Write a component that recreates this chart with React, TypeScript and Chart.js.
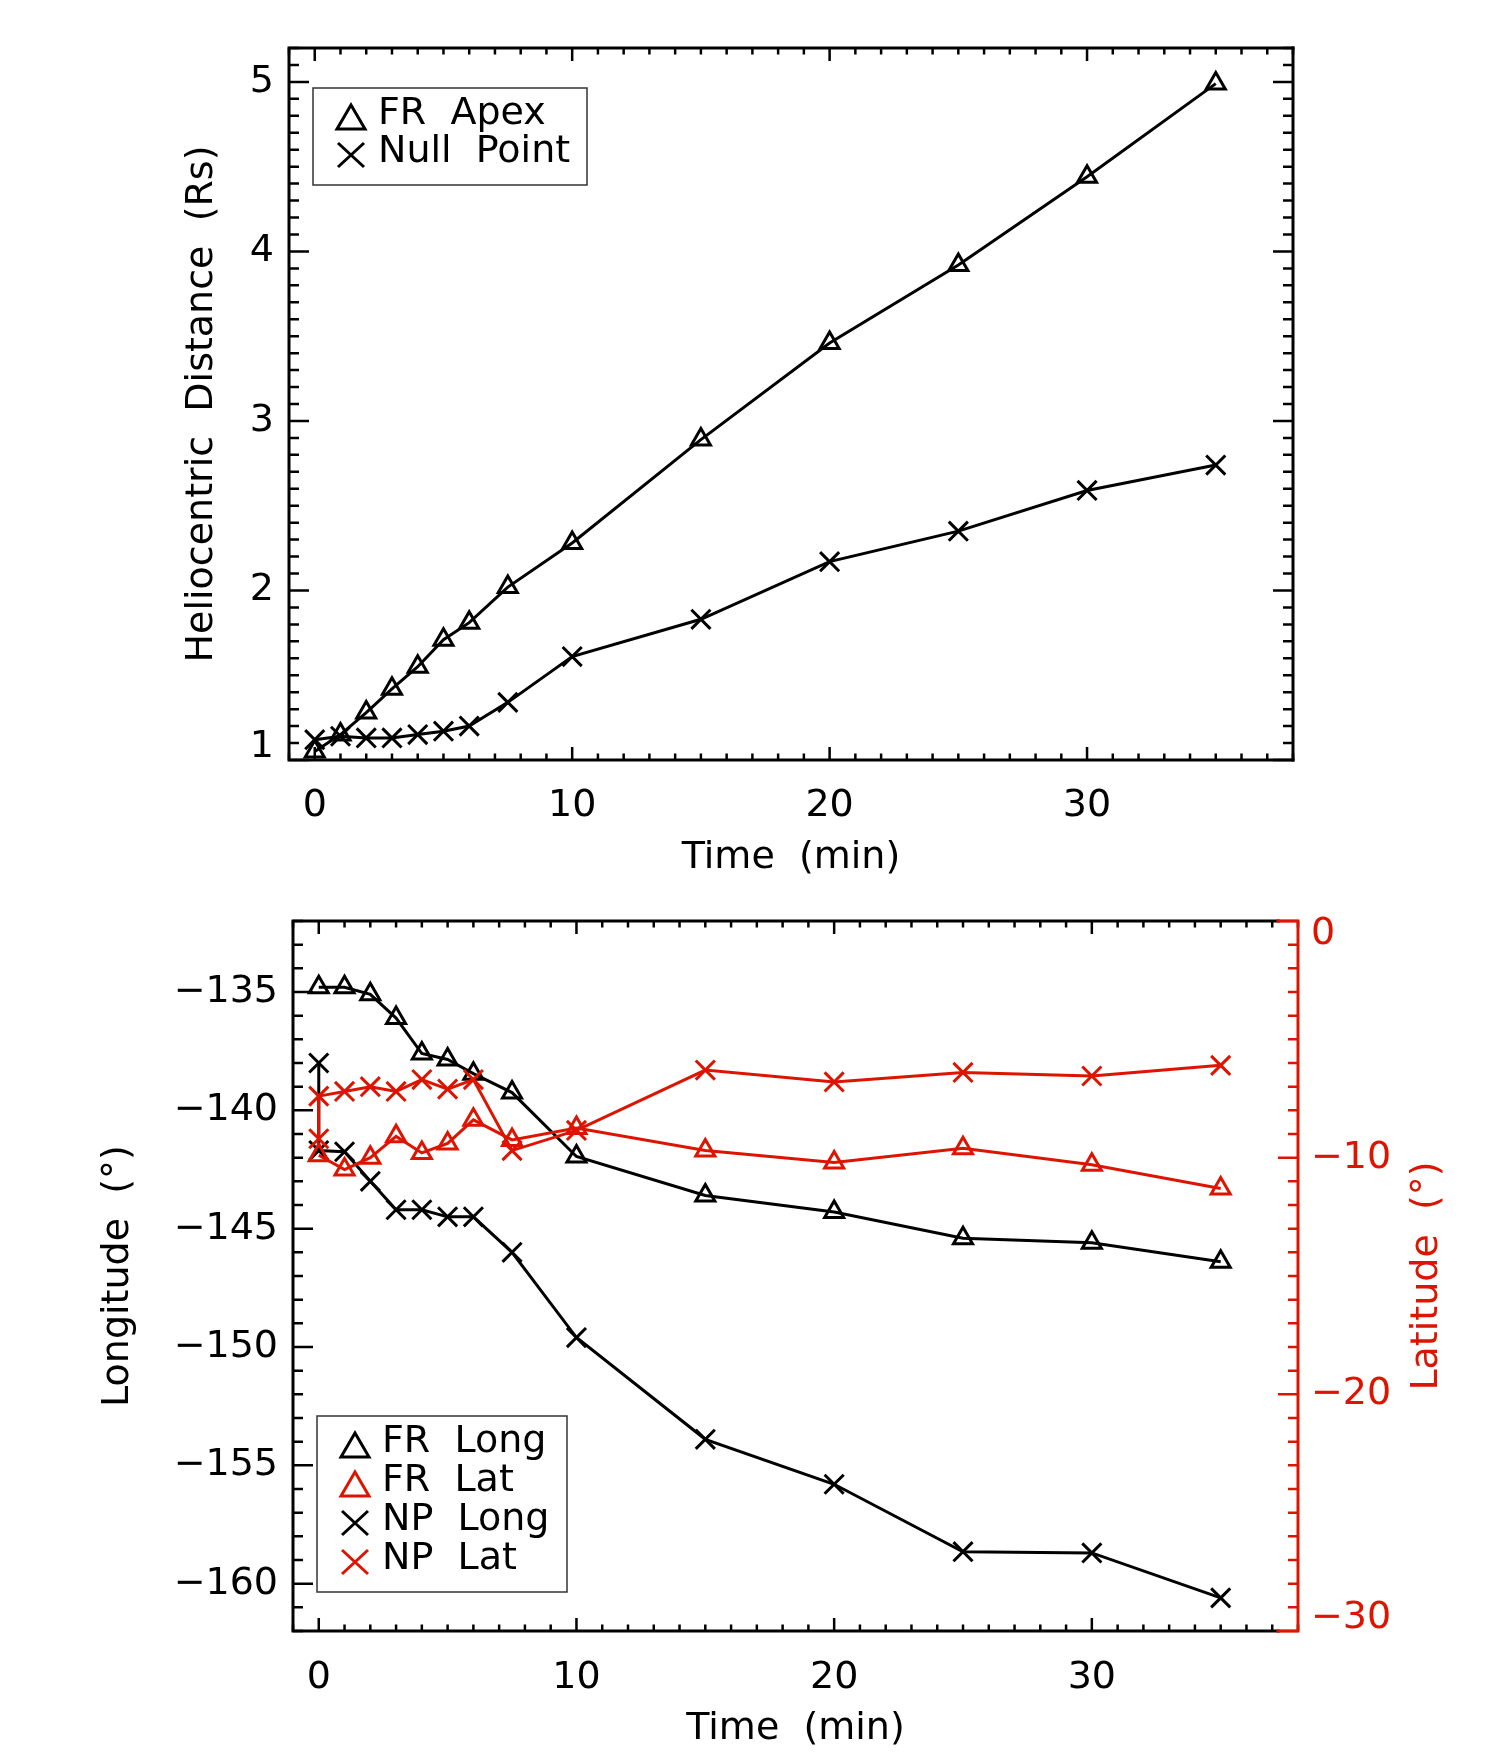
import React, { useEffect, useRef } from 'react';
import { Chart, registerables } from 'chart.js';

Chart.register(...registerables);

// top panel: heliocentric distance (Rs) vs time (min)
const apexTimes = [0, 1, 2, 3, 4, 5, 6, 7.5, 10, 15, 20, 25, 30, 35];
const frApex = [1.05, 1.15, 1.28, 1.42, 1.55, 1.71, 1.81, 2.02, 2.28, 2.89, 3.46, 3.92, 4.44, 4.99];
const nullTimes = [0, 1, 2, 3, 4, 5, 6, 7.5, 10, 15, 20, 25, 30, 35];
const nullPoint = [1.12, 1.14, 1.13, 1.13, 1.15, 1.17, 1.2, 1.34, 1.61, 1.83, 2.17, 2.35, 2.59, 2.74];
const distTicks = [1, 2, 3, 4, 5];
const timeTicks = [0, 10, 20, 30];

// bottom panel: longitude / latitude (deg) vs time (min)
const frTimes = [0, 1, 2, 3, 4, 5, 6, 7.5, 10, 15, 20, 25, 30, 35];
const frLong = [-134.8, -134.8, -135.1, -136.1, -137.6, -137.85, -138.45, -139.25, -141.95, -143.6, -144.3, -145.4, -145.6, -146.4];
const frLat = [-9.9, -10.5, -10.0, -9.1, -9.8, -9.4, -8.4, -9.25, -8.75, -9.7, -10.2, -9.6, -10.3, -11.3];
const npTimes = [0, 0, 1, 2, 3, 4, 5, 6, 7.5, 10, 15, 20, 25, 30, 35];
const npLong = [-138.0, -141.7, -141.75, -143.0, -144.2, -144.2, -144.5, -144.5, -146.0, -149.6, -153.9, -155.8, -158.65, -158.7, -160.6];
const npLat = [-9.2, -7.4, -7.2, -7.0, -7.2, -6.7, -7.1, -6.7, -9.7, -8.85, -6.3, -6.8, -6.4, -6.55, -6.1];
const lonTicks = [-160, -155, -150, -145, -140, -135];
const latTicks = [-30, -20, -10, 0];

const RED = 'rgb(220,20,0)';
const FONT = 'DejaVu Sans';
const tickFont = { family: FONT, size: 38, lineHeight: 1 };
// end labels are nudged inward by half a line (IDL style)
const endTickFont = { family: FONT, size: 38, lineHeight: 0.68 };
const LW = 3;

Chart.defaults.font.family = FONT;

const pts = (xs: number[], ys: number[]) => xs.map((x, i) => ({ x, y: ys[i] }));
const near = (a: number, b: number) => Math.abs(a - b) < 1e-6;
const fmt = (v: number) => (v < 0 ? '\u2212' + Math.abs(v) : String(v));
const labelFor = (majors: number[]) => (v: any) => (majors.some((m) => near(m, Number(v))) ? fmt(Number(v)) : '');

// vertical axis whose lowest/highest labels sit on the frame: push them inside
const labelInset = (majors: number[], lo: number, hi: number) => (v: any) => {
  const n = Number(v);
  if (!majors.some((m) => near(m, n))) return '';
  if (near(n, lo)) return [fmt(n), ''];
  if (near(n, hi)) return ['', fmt(n)];
  return fmt(n);
};

// every minor step between the axis limits, labels only on the majors
const stepTicks = (step: number) => (scale: any) => {
  const out: { value: number }[] = [];
  for (let i = 0; ; i++) {
    const v = Math.round((scale.min + i * step) * 1000) / 1000;
    if (v > scale.max + 1e-9) break;
    out.push({ value: v });
  }
  scale.ticks = out;
};

type Side = 'left' | 'right' | 'top' | 'bottom';
interface TickEdge { scaleId: string; side: Side; major: number; minor: number; majors: number[]; color: string }

function makeFrame(edges: TickEdge[], rightColor: string, stub: number) {
  return {
    id: 'idlFrame',
    beforeDatasetsDraw(chart: any) {
      const { ctx, chartArea: a } = chart;
      ctx.save();
      ctx.lineCap = 'butt';
      ctx.lineWidth = 2.5;
      for (const e of edges) {
        const s = chart.scales[e.scaleId];
        ctx.strokeStyle = e.color;
        ctx.beginPath();
        for (const t of s.ticks) {
          const len = e.majors.some((m) => near(m, t.value)) ? e.major : e.minor;
          const p = s.getPixelForValue(t.value);
          if (e.side === 'bottom') { ctx.moveTo(p, a.bottom); ctx.lineTo(p, a.bottom - len); }
          if (e.side === 'top') { ctx.moveTo(p, a.top); ctx.lineTo(p, a.top + len); }
          if (e.side === 'left') { ctx.moveTo(a.left, p); ctx.lineTo(a.left + len, p); }
          if (e.side === 'right') { ctx.moveTo(a.right, p); ctx.lineTo(a.right - len, p); }
        }
        ctx.stroke();
      }
      ctx.lineWidth = 3;
      ctx.lineJoin = 'miter';
      ctx.lineCap = 'square';
      ctx.strokeStyle = '#000';
      ctx.beginPath();
      ctx.moveTo(a.right - stub, a.top);
      ctx.lineTo(a.left, a.top);
      ctx.lineTo(a.left, a.bottom);
      ctx.lineTo(a.right - stub, a.bottom);
      ctx.stroke();
      ctx.strokeStyle = rightColor;
      ctx.beginPath();
      ctx.moveTo(a.right - stub, a.top);
      ctx.lineTo(a.right, a.top);
      ctx.lineTo(a.right, a.bottom);
      ctx.lineTo(a.right - stub, a.bottom);
      ctx.stroke();
      ctx.restore();
    },
  };
}

function makeLegend(box: { x: number; y: number; w: number; h: number }, rows: number[], symX: number, textX: number) {
  return {
    id: 'idlLegend',
    afterDraw(chart: any) {
      const { ctx } = chart;
      ctx.save();
      ctx.fillStyle = '#fff';
      ctx.fillRect(box.x, box.y, box.w, box.h);
      ctx.strokeStyle = '#333';
      ctx.lineWidth = 1.5;
      ctx.strokeRect(box.x, box.y, box.w, box.h);
      chart.data.datasets.forEach((ds: any, i: number) => {
        const y = rows[i];
        ctx.strokeStyle = ds.borderColor;
        ctx.lineWidth = LW;
        ctx.beginPath();
        if (ds.pointStyle === 'triangle') {
          ctx.moveTo(symX, y - 12);
          ctx.lineTo(symX + 14, y + 12);
          ctx.lineTo(symX - 14, y + 12);
          ctx.closePath();
        } else {
          ctx.moveTo(symX - 13, y - 12);
          ctx.lineTo(symX + 13, y + 12);
          ctx.moveTo(symX + 13, y - 12);
          ctx.lineTo(symX - 13, y + 12);
        }
        ctx.stroke();
        ctx.fillStyle = '#000';
        ctx.font = `38px "${FONT}"`;
        ctx.textAlign = 'left';
        ctx.textBaseline = 'middle';
        ctx.fillText(ds.label, textX, y - 3);
      });
      ctx.restore();
    },
  };
}

const rightTitle = {
  id: 'rightTitle',
  afterDraw(chart: any) {
    const { ctx, chartArea: a } = chart;
    ctx.save();
    ctx.translate(1427, (a.top + a.bottom) / 2);
    ctx.rotate(-Math.PI / 2);
    ctx.fillStyle = RED;
    ctx.font = `38px "${FONT}"`;
    ctx.textAlign = 'center';
    ctx.textBaseline = 'middle';
    ctx.fillText('Latitude  (\u00b0)', 0, 0);
    ctx.restore();
  },
};

const lineStyle = (color: string, marker: 'triangle' | 'crossRot') => ({
  borderColor: color,
  borderWidth: LW,
  pointStyle: marker,
  pointRadius: marker === 'triangle' ? 11 : 13.5,
  pointBorderWidth: LW,
  pointBorderColor: color,
  pointBackgroundColor: 'rgba(0,0,0,0)',
  tension: 0,
  fill: false,
});

const noGrid = { display: false, drawTicks: false };
const titleFont = { family: FONT, size: 38, lineHeight: 1 };

export default function App() {
  const topRef = useRef<HTMLCanvasElement>(null);
  const botRef = useRef<HTMLCanvasElement>(null);

  useEffect(() => {
    const charts: Chart[] = [];
    if (topRef.current) {
      charts.push(
        new Chart(topRef.current, {
          type: 'line',
          data: {
            datasets: [
              { label: 'FR  Apex', data: pts(apexTimes, frApex), ...lineStyle('#000', 'triangle') },
              { label: 'Null  Point', data: pts(nullTimes, nullPoint), ...lineStyle('#000', 'crossRot') },
            ],
          } as any,
          options: {
            responsive: false,
            devicePixelRatio: 1,
            animation: false,
            events: [],
            layout: { padding: { top: 48, right: 210, bottom: 0, left: 0 } },
            plugins: { legend: { display: false }, tooltip: { enabled: false } },
            scales: {
              x: {
                type: 'linear', min: -1, max: 38,
                afterBuildTicks: stepTicks(1),
                afterFit: (s: any) => { s.height = 120; },
                grid: noGrid, border: { display: false },
                ticks: { autoSkip: false, maxRotation: 0, minRotation: 0, padding: 27, color: '#000', font: tickFont, callback: labelFor(timeTicks) },
                title: { display: true, text: 'Time  (min)', color: '#000', font: titleFont, padding: { top: 0, bottom: 3 } },
              },
              y: {
                type: 'linear', min: 1, max: 5.2,
                afterBuildTicks: stepTicks(0.1),
                afterFit: (s: any) => { s.width = 289; },
                grid: noGrid, border: { display: false },
                ticks: { autoSkip: false, padding: 15, color: '#000', font: endTickFont, callback: labelInset(distTicks, 1, 5.2) },
                title: { display: true, text: 'Heliocentric  Distance  (Rs)', color: '#000', font: titleFont, padding: { top: 183, bottom: 0 } },
              },
            },
          } as any,
          plugins: [
            makeFrame(
              [
                { scaleId: 'x', side: 'bottom', major: 13, minor: 6.5, majors: timeTicks, color: '#000' },
                { scaleId: 'x', side: 'top', major: 13, minor: 6.5, majors: timeTicks, color: '#000' },
                { scaleId: 'y', side: 'left', major: 20, minor: 10, majors: distTicks, color: '#000' },
                { scaleId: 'y', side: 'right', major: 20, minor: 10, majors: distTicks, color: '#000' },
              ],
              '#000',
              0,
            ),
            makeLegend({ x: 313, y: 88, w: 274, h: 97 }, [117, 155], 351, 378),
          ],
        }),
      );
    }
    if (botRef.current) {
      charts.push(
        new Chart(botRef.current, {
          type: 'line',
          data: {
            datasets: [
              { label: 'FR  Long', data: pts(frTimes, frLong), yAxisID: 'y', order: 2, ...lineStyle('#000', 'triangle') },
              { label: 'FR  Lat', data: pts(frTimes, frLat), yAxisID: 'y2', order: 0, ...lineStyle(RED, 'triangle') },
              { label: 'NP  Long', data: pts(npTimes, npLong), yAxisID: 'y', order: 3, ...lineStyle('#000', 'crossRot') },
              { label: 'NP  Lat', data: pts(npTimes, npLat), yAxisID: 'y2', order: 1, ...lineStyle(RED, 'crossRot') },
            ],
          } as any,
          options: {
            responsive: false,
            devicePixelRatio: 1,
            animation: false,
            events: [],
            layout: { padding: { top: 41, right: 0, bottom: 0, left: 0 } },
            plugins: { legend: { display: false }, tooltip: { enabled: false } },
            scales: {
              x: {
                type: 'linear', min: -1, max: 38,
                afterBuildTicks: stepTicks(1),
                afterFit: (s: any) => { s.height = 128; },
                grid: noGrid, border: { display: false },
                ticks: { autoSkip: false, maxRotation: 0, minRotation: 0, padding: 28, color: '#000', font: tickFont, callback: labelFor(timeTicks) },
                title: { display: true, text: 'Time  (min)', color: '#000', font: titleFont, padding: { top: 0, bottom: 11 } },
              },
              y: {
                type: 'linear', position: 'left', min: -162, max: -132,
                afterBuildTicks: stepTicks(1),
                afterFit: (s: any) => { s.width = 293; },
                grid: noGrid, border: { display: false },
                ticks: { autoSkip: false, padding: 15, color: '#000', font: tickFont, callback: labelFor(lonTicks) },
                title: { display: true, text: 'Longitude  (\u00b0)', color: '#000', font: titleFont, padding: { top: 99, bottom: 0 } },
              },
              y2: {
                type: 'linear', position: 'right', min: -30, max: 0,
                afterBuildTicks: stepTicks(1),
                afterFit: (s: any) => { s.width = 205; },
                grid: noGrid, border: { display: false },
                ticks: { autoSkip: false, padding: 13, color: RED, font: endTickFont, callback: labelInset(latTicks, -30, 0) },
              },
            },
          } as any,
          plugins: [
            makeFrame(
              [
                { scaleId: 'x', side: 'bottom', major: 13, minor: 6.5, majors: timeTicks, color: '#000' },
                { scaleId: 'x', side: 'top', major: 13, minor: 6.5, majors: timeTicks, color: '#000' },
                { scaleId: 'y', side: 'left', major: 20, minor: 10, majors: lonTicks, color: '#000' },
                { scaleId: 'y2', side: 'right', major: 20, minor: 10, majors: latTicks, color: RED },
              ],
              RED,
              20,
            ),
            makeLegend({ x: 317, y: 536, w: 250, h: 176 }, [565, 604, 643, 682], 355, 382),
            rightTitle,
          ],
        }),
      );
    }
    return () => charts.forEach((c) => c.destroy());
  }, []);

  return (
    <div style={{ position: 'absolute', left: 0, top: 0, width: 1503, height: 1759, background: '#fff' }}>
      <canvas ref={topRef} width={1503} height={880} style={{ position: 'absolute', left: 0, top: 0 }} />
      <canvas ref={botRef} width={1503} height={879} style={{ position: 'absolute', left: 0, top: 880 }} />
    </div>
  );
}
